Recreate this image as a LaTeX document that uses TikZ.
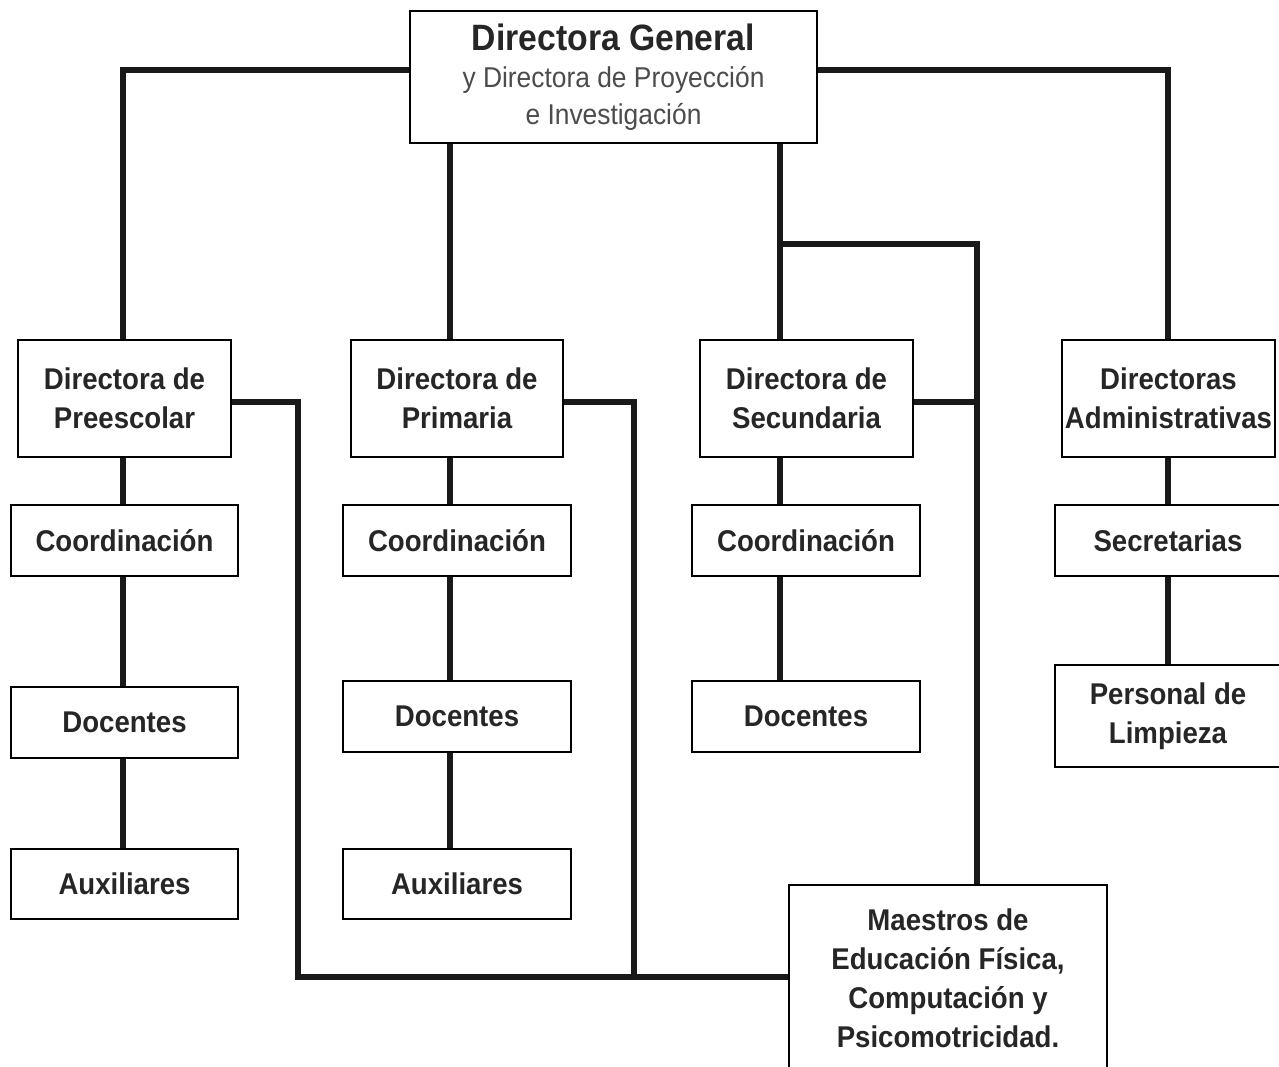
\documentclass[tikz,border=0pt]{standalone}
\usepackage{fontspec}
\setmainfont{Liberation Sans}[FakeStretch=0.92]
\usetikzlibrary{backgrounds}
\newcommand{\lblfont}{\fontsize{22.5}{29.3}\selectfont\bfseries}
\newcommand{\subfont}{\fontsize{21.5}{27}\selectfont}
\begin{document}
\begin{tikzpicture}[x=0.75pt, y=-0.75pt]
  \tikzset{
    orgbox/.style={draw, fill=white, line width=1.4pt, inner sep=0pt, align=center, font=\lblfont, text=black!85},
    wh/.style 2 args={minimum width=#1*0.75pt, minimum height=#2*0.75pt},
    link/.style={line width=4.6pt, black!90, line cap=rect, line join=miter}
  }
  \clip (0,0) rectangle (1279,1067);
  % top
  \node [orgbox, wh={407}{132}] (gen) at (613.5,77)
    {{\fontsize{27.5}{33}\selectfont\bfseries Directora General}\\[-1pt]
     {\subfont\mdseries\color{black!70}y Directora de Proyección}\\[-2pt]
     {\subfont\mdseries\color{black!70}e Investigación}};
  % directoras
  \node [orgbox, wh={213}{117}] (pre) at (124.5,398.5) {Directora de\\Preescolar};
  \node [orgbox, wh={212}{117}] (pri) at (457,398.5) {Directora de\\Primaria};
  \node [orgbox, wh={213}{117}] (sec) at (806.5,398.5) {Directora de\\Secundaria};
  \node [orgbox, wh={213}{117}] (adm) at (1168.5,398.5) {Directoras\\Administrativas};
  % second row
  \node [orgbox, wh={227}{71}] (coo1) at (124.5,540.5) {Coordinación};
  \node [orgbox, wh={228}{71}] (coo2) at (457,540.5) {Coordinación};
  \node [orgbox, wh={228}{71}] (coo3) at (806,540.5) {Coordinación};
  \node [orgbox, wh={226}{71}] (sria) at (1168,540.5) {Secretarias};
  % third row
  \node [orgbox, wh={227}{71}] (doc1) at (124.5,722.5) {Docentes};
  \node [orgbox, wh={228}{71}] (doc2) at (457,716.5) {Docentes};
  \node [orgbox, wh={228}{71}] (doc3) at (806,716.5) {Docentes};
  \node [orgbox, wh={226}{102}] (limp) at (1168,716) {Personal de\\Limpieza};
  % fourth row
  \node [orgbox, wh={227}{70}] (aux1) at (124.5,884) {Auxiliares};
  \node [orgbox, wh={228}{70}] (aux2) at (457,884) {Auxiliares};
  \node [orgbox, wh={318}{186}] (mae) at (948,978)
    {Maestros de\\Educación Física,\\Computación y\\Psicomotricidad.};

  % trunk positions
  \coordinate (x1) at (123,70);
  \coordinate (x2) at (450,0);
  \coordinate (x3) at (780,0);
  \coordinate (x4) at (1168,70);
  \coordinate (xm) at (977,0);
  \coordinate (br) at (780,244);
  \coordinate (r) at (0,402);
  \coordinate (bot1) at (298,977);
  \coordinate (bot2) at (634,977);

  \begin{pgfonlayer}{background}
    \draw [link] (gen.west |- x1) -| (pre.north -| x1);
    \draw [link] (gen.east |- x4) -| (adm.north -| x4);
    \draw [link] (gen.south -| x2) -- (pri.north -| x2);
    \draw [link] (gen.south -| x3) -- (sec.north -| x3);
    \draw [link] (br) -| (mae.north -| xm);
    % columns
    \draw [link] (pre.south -| x1) -- (aux1.north -| x1);
    \draw [link] (pri.south -| x2) -- (aux2.north -| x2);
    \draw [link] (sec.south -| x3) -- (doc3.north -| x3);
    \draw [link] (adm.south -| x4) -- (limp.north -| x4);
    % to maestros
    \draw [link] (pre.east |- r) -| (bot1) -- (mae.west |- bot1);
    \draw [link] (pri.east |- r) -| (bot2);
    \draw [link] (sec.east |- r) -- (r -| xm);
  \end{pgfonlayer}
\end{tikzpicture}
\end{document}
